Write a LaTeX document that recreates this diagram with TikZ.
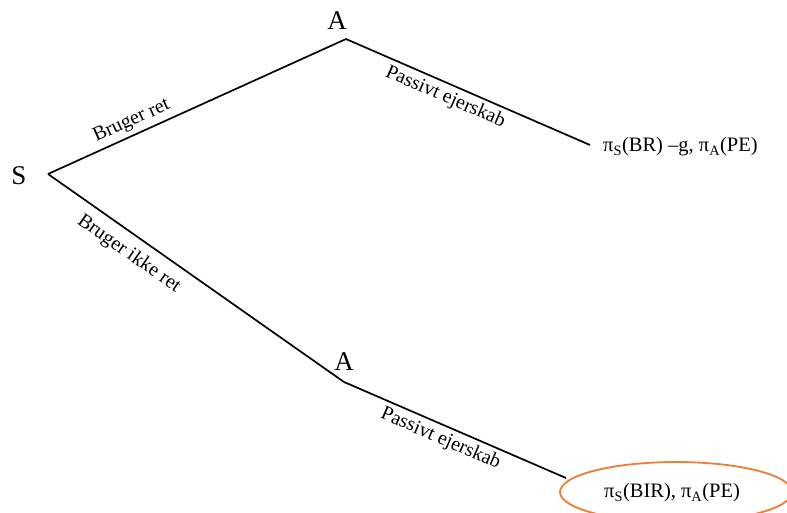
\documentclass[tikz,border=0pt]{standalone}
\usepackage{fontspec}
\setmainfont{Liberation Serif}
\definecolor{orangeline}{RGB}{237,125,49}
\begin{document}
\begin{tikzpicture}[x=1pt,y=-1pt,
  branch/.style={line width=1.7pt},
  player/.style={font=\fontsize{27}{27}\selectfont, inner sep=0pt},
  act/.style={font=\fontsize{20}{20}\selectfont, sloped, inner sep=4pt},
  payoff/.style={font=\fontsize{20.5}{21}\selectfont, inner sep=0pt, anchor=west}]
\useasboundingbox (0,0) rectangle (787,512);
% decision points
\coordinate (s) at (48,174);
\coordinate (a1) at (346,39);
\coordinate (a2) at (344,382);
\coordinate (e1) at (590,145);
\coordinate (e2) at (566,478);
% player names
\node[player] (ls) at (19,176) {S};
\node[player] (la1) at (337,21) {A};
\node[player] (la2) at (344,362) {A};
% branches
\draw[branch] (s) -- node[act, pos=0.3, above] {Bruger ret} (a1);
\draw[branch] (a1) -- node[act, pos=0.43, below] {Passivt ejerskab} (e1);
\draw[branch] (s) -- node[act, pos=0.31, below, inner sep=9pt] {Bruger ikke ret} (a2);
\draw[branch] (a2) -- node[act, pos=0.46, below] {Passivt ejerskab} (e2);
% payoffs
\node[payoff] (p1) at (603,147) {π\textsubscript{S}(BR) –g, π\textsubscript{A}(PE)};
\node[payoff] (p2) at (604,493) {π\textsubscript{S}(BIR), π\textsubscript{A}(PE)};
\draw[orangeline, line width=1.8pt] (676,492) ellipse [x radius=116, y radius=30];
\end{tikzpicture}
\end{document}
